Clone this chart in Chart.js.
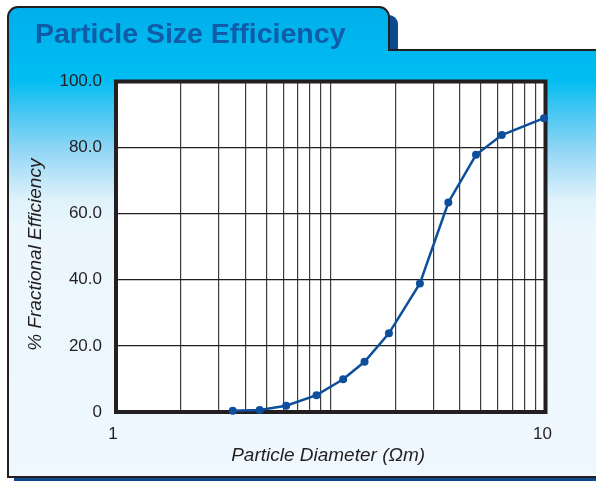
<!DOCTYPE html>
<html>
<head>
<meta charset="utf-8">
<script src="https://cdn.jsdelivr.net/npm/chart.js@4.4.1/dist/chart.umd.min.js"></script>
<style>
  html, body { margin: 0; padding: 0; background: #fff; }
  #wrap { width: 596px; height: 481px; position: relative; }
</style>
</head>
<body>
<div id="wrap"><canvas id="myChart"></canvas></div>
<script>
  // values
  const diameters = [1.87, 2.16, 2.49, 2.93, 3.38, 3.79, 4.32, 5.1, 5.94, 6.89, 7.91, 9.92];
  const efficiency = [0.4, 0.6, 1.9, 5.1, 9.9, 15.2, 23.8, 38.9, 63.4, 77.8, 83.8, 88.9];
  const xTickLabels = ['1', '10'];
  const yTicks = [0, 20, 40, 60, 80, 100];
  const yTickLabels = ['0', '20.0', '40.0', '60.0', '80.0', '100.0'];

  // the printed grid packs two log decades between 1 and 10
  const xGrid = [];
  for (let k = 1; k <= 10; k++) xGrid.push(Math.sqrt(k));
  for (let k = 2; k <= 10; k++) xGrid.push(Math.sqrt(10 * k));

  const FONT = "'Liberation Sans', Arial, Helvetica, sans-serif";
  const INK = '#231f20';

  const panel = {
    id: 'panel',
    beforeDraw(chart) {
      const c = chart.ctx, a = chart.chartArea;
      c.save();
      c.fillStyle = '#fff';
      c.fillRect(0, 0, chart.width, chart.height);

      // shadows
      c.fillStyle = '#0b4a8e';
      c.beginPath();
      c.roundRect(380, 15, 18, 40, [0, 9, 0, 0]);
      c.fill();
      c.fillRect(14, 476, 600, 6);

      // tab + panel
      const g = c.createLinearGradient(0, 7, 0, 477);
      g.addColorStop(0, '#00afea');
      g.addColorStop(0.155, '#00bdf2');
      g.addColorStop(0.2, '#30c3f1');
      g.addColorStop(0.305, '#92d6f5');
      g.addColorStop(0.41, '#dff2fc');
      g.addColorStop(0.475, '#ebf7fd');
      g.addColorStop(1, '#eef8fe');
      c.beginPath();
      c.moveTo(8, 477);
      c.lineTo(8, 17);
      c.arcTo(8, 7, 18, 7, 10);
      c.lineTo(379, 7);
      c.arcTo(389, 7, 389, 17, 10);
      c.lineTo(389, 50);
      c.lineTo(600, 50);
      c.lineTo(600, 477);
      c.closePath();
      c.fillStyle = g;
      c.fill();
      c.lineWidth = 2;
      c.strokeStyle = INK;
      c.stroke();

      c.fillStyle = '#fff';
      c.fillRect(a.left, a.top, a.right - a.left, a.bottom - a.top);
      c.restore();
    },
    beforeDatasetsDraw(chart) {
      const c = chart.ctx, a = chart.chartArea;
      c.save();
      c.lineWidth = 4;
      c.strokeStyle = INK;
      c.strokeRect(a.left, a.top, a.right - a.left, a.bottom - a.top);
      c.restore();
    }
  };

  const ctx = document.getElementById('myChart');
  new Chart(ctx, {
    type: 'line',
    data: {
      datasets: [{
        data: diameters.map((d, i) => ({ x: d, y: efficiency[i] })),
        borderColor: '#0d4f9c',
        backgroundColor: '#0d4f9c',
        borderWidth: 2.5,
        pointRadius: 4,
        pointBorderWidth: 0,
        tension: 0,
        clip: false
      }]
    },
    options: {
      responsive: true,
      maintainAspectRatio: false,
      animation: false,
      events: [],
      layout: { padding: { left: 35, right: 50.5, top: 0, bottom: 9.6 } },
      plugins: {
        legend: { display: false },
        tooltip: { enabled: false },
        title: {
          display: true,
          text: 'Particle Size Efficiency',
          align: 'start',
          color: '#105ca8',
          font: { family: FONT, size: 28.5, weight: 'bold' },
          padding: { top: 18, bottom: 29.3 }
        }
      },
      scales: {
        x: {
          type: 'logarithmic',
          min: 1,
          max: 10,
          afterBuildTicks: (axis) => { axis.ticks = xGrid.map(v => ({ value: v })); },
          afterFit: (axis) => { axis.height = 59.4; },
          ticks: {
            autoSkip: false,
            maxRotation: 0,
            padding: 12.5,
            labelOffset: -3,
            color: INK,
            font: { family: FONT, size: 17 },
            callback: (v) => v === 1 ? xTickLabels[0] : (v === 10 ? xTickLabels[1] : '')
          },
          grid: { color: '#3c3c3c', lineWidth: 1.2, drawTicks: false },
          border: { display: false },
          title: {
            display: true,
            text: 'Particle Diameter (Ωm) ',
            color: INK,
            font: { family: FONT, size: 19, style: 'italic' }
          }
        },
        y: {
          min: 0,
          max: 100,
          afterBuildTicks: (axis) => { axis.ticks = yTicks.map(v => ({ value: v })); },
          afterFit: (axis) => { axis.width = 81; },
          ticks: {
            padding: 14,
            color: INK,
            font: { family: FONT, size: 17 },
            callback: (v) => yTickLabels[yTicks.indexOf(v)]
          },
          grid: { color: INK, lineWidth: 1.2, drawTicks: false },
          border: { display: false },
          title: {
            display: true,
            text: '% Fractional Efficiency   ',
            color: INK,
            padding: { top: -10.4, bottom: 0 },
            font: { family: FONT, size: 19, style: 'italic' }
          }
        }
      }
    },
    plugins: [panel]
  });
</script>
</body>
</html>
